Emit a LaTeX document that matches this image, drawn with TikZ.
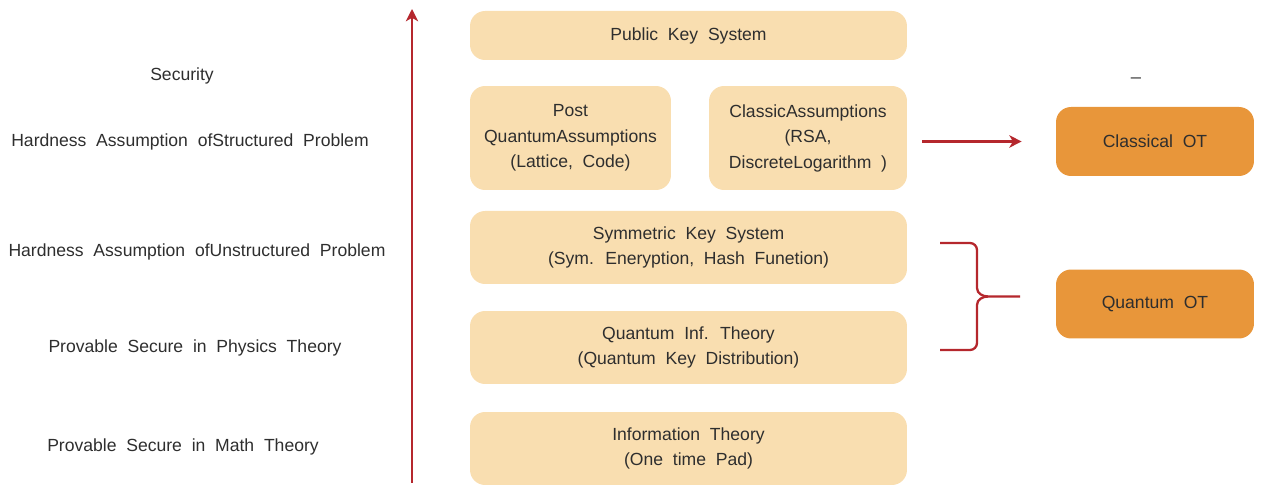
\documentclass[tikz,border=0pt]{standalone}
\usepackage{fontspec}
\setmainfont[WordSpace=2]{Liberation Sans}
\usepackage{tikz}
\usetikzlibrary{arrows.meta}

\definecolor{boxlight}{HTML}{F9DEB0}
\definecolor{boxorange}{HTML}{E8963A}
\definecolor{darkred}{HTML}{B5272D}
\definecolor{txtgray}{HTML}{2E2E2E}

\begin{document}
\begin{tikzpicture}[x=0.02cm, y=-0.02cm,
    every node/.style={font=\fontsize{10}{14.5}\selectfont, text=txtgray},
    lightbox/.style={fill=boxlight, rounded corners=0.3cm, align=center, inner sep=0pt},
    otbox/.style={fill=boxorange, rounded corners=0.3cm, align=center, inner sep=0pt,
        minimum width=3.96cm, minimum height=1.38cm},
    redline/.style={draw=darkred, line width=1.3pt}]
    \useasboundingbox (0,0) rectangle (1262,492);

    % Left labels
    \node (sec) at (182,76) {Security};
    \node (hstr) at (190,142) {Hardness Assumption ofStructured Problem};
    \node (hunstr) at (197,252) {Hardness Assumption ofUnstructured Problem};
    \node (phys) at (195,348) {Provable Secure in Physics Theory};
    \node (math) at (183,447) {Provable Secure in Math Theory};

    % Vertical axis
    \coordinate (axbot) at (412,483);
    \coordinate (axtop) at (412,9);
    \draw[redline, -{Stealth[length=7pt, width=7pt, inset=2pt]}] (axbot) -- (axtop);

    % Layers
    \node[lightbox, minimum width=8.74cm, minimum height=0.98cm] (pks) at (688.5,35.5) {Public Key System};
    \node[lightbox, minimum width=4.02cm, minimum height=2.08cm] (pq) at (570.5,138) {Post\\QuantumAssumptions\\(Lattice, Code)};
    \node[lightbox, minimum width=3.96cm, minimum height=2.08cm] (ca) at (808,138) {ClassicAssumptions\\(RSA,\\DiscreteLogarithm )};
    \node[lightbox, minimum width=8.74cm, minimum height=1.46cm] (sym) at (688.5,247.5) {Symmetric Key System\\(Sym. Eneryption, Hash Funetion)};
    \node[lightbox, minimum width=8.74cm, minimum height=1.46cm] (qit) at (688.5,347.5) {Quantum Inf. Theory\\(Quantum Key Distribution)};
    \node[lightbox, minimum width=8.74cm, minimum height=1.46cm] (it) at (688.5,448.5) {Information Theory\\(One time Pad)};

    % OT boxes
    \node[otbox] (cot) at (1155,141.5) {Classical OT};
    \node[otbox] (qot) at (1155,304) {Quantum OT};
    \node (dash) at (1136,77) {\_};

    % Arrow and brace
    \draw[redline, -{Stealth[length=7pt, width=7pt, inset=2pt]}, shorten <=0.3cm, shorten >=0.68cm] (ca.east |- cot.west) -- (cot.west);
    \coordinate (btop) at (940,243);
    \coordinate (bbot) at (940,350);
    \coordinate (btip) at (1020,296.5);
    \draw[redline] (btop) -- (970,243) to[out=0, in=90] (977,250) -- (977,288)
        to[out=-90, in=180] (988,296.5) -- (btip);
    \draw[redline] (bbot) -- (970,350) to[out=0, in=-90] (977,343) -- (977,305)
        to[out=90, in=180] (988,296.5);
\end{tikzpicture}
\end{document}
